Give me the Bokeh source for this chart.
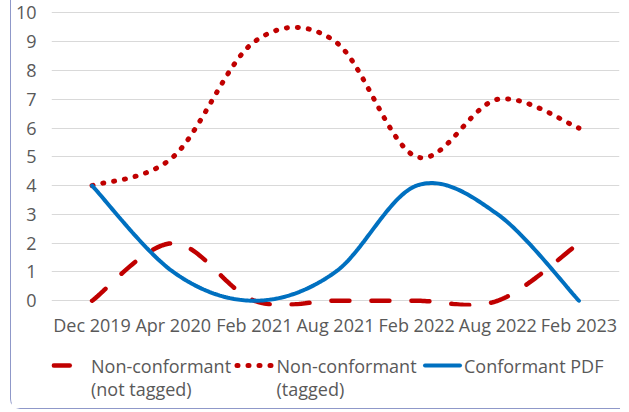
import numpy as np
from bokeh.plotting import figure
from bokeh.models import Range1d, FixedTicker
from bokeh.layouts import column
from bokeh.embed import file_html
from bokeh.resources import INLINE
from bokeh.core.properties import value

# ---- data ----
categories = ["Dec 2019", "Apr 2020", "Feb 2021", "Aug 2021", "Feb 2022", "Aug 2022", "Feb 2023"]
not_tagged = [0, 2, 0, 0, 0, 0, 2]
tagged = [4, 5, 9, 9, 5, 7, 6]
conformant = [4, 1, 0, 1, 4, 3, 0]
y_ticks = list(range(0, 11))
legend_line1 = ["Non-conformant", "Non-conformant", "Conformant PDF"]
legend_line2 = ["(not tagged)", "(tagged)", ""]

FONT = "Open Sans"
FS = "18px"
TXT = "#595959"
RED = "#C00000"
BLUE = "#0070C0"

OFFSET_X = 11.5   # column margin + border width (page px)
LEFT = 40
RIGHT = 1
W = 609


def smooth(ys, n=40):
    """Excel-like smoothed line (Catmull-Rom style cubic Bezier)."""
    pts = [(float(i), float(y)) for i, y in enumerate(ys)]
    ox, oy = [], []
    m = len(pts)
    for i in range(m - 1):
        p0 = pts[i - 1] if i > 0 else pts[i]
        p1 = pts[i]
        p2 = pts[i + 1]
        p3 = pts[i + 2] if i + 2 < m else pts[i + 1]
        c1 = (p1[0] + (p2[0] - p0[0]) / 6, p1[1] + (p2[1] - p0[1]) / 6)
        c2 = (p2[0] - (p3[0] - p1[0]) / 6, p2[1] - (p3[1] - p1[1]) / 6)
        t = np.linspace(0, 1, n, endpoint=(i == m - 2))
        a = (1 - t) ** 3
        b = 3 * (1 - t) ** 2 * t
        c = 3 * (1 - t) * t ** 2
        d = t ** 3
        ox.extend(a * p1[0] + b * c1[0] + c * c2[0] + d * p2[0])
        oy.extend(a * p1[1] + b * c1[1] + c * c2[1] + d * p2[1])
    return ox, oy


p = figure(width=W, height=344,
           x_range=Range1d(-0.5, len(categories) - 0.5),
           y_range=Range1d(-0.2, 10.05),
           output_backend="svg", toolbar_location=None,
           min_border_left=LEFT, min_border_right=RIGHT,
           min_border_top=11, min_border_bottom=38)
p.outline_line_color = None
p.background_fill_color = "white"
p.border_fill_color = "white"
p.xgrid.grid_line_color = None
p.ygrid.grid_line_color = "#D9D9D9"
p.ygrid.grid_line_width = 1

p.yaxis.ticker = FixedTicker(ticks=y_ticks)
p.xaxis.ticker = FixedTicker(ticks=list(range(len(categories))))
p.xaxis.major_label_overrides = {i: c for i, c in enumerate(categories)}
for ax in (p.xaxis, p.yaxis):
    ax.axis_line_color = None
    ax.major_tick_line_color = None
    ax.minor_tick_line_color = None
    ax.major_tick_out = 0
    ax.major_tick_in = 0
    ax.minor_tick_out = 0
    ax.minor_tick_in = 0
    ax.major_label_text_font = FONT
    ax.major_label_text_font_size = FS
    ax.major_label_text_color = TXT
p.yaxis.major_label_standoff = 15
p.xaxis.major_label_standoff = 6

x1, y1 = smooth(not_tagged)
p.line(x1, y1, line_color=RED, line_width=4.5, line_dash="18 22", line_cap="round")
x2, y2 = smooth(tagged)
p.line(x2, y2, line_color=RED, line_width=5, line_dash="1 10", line_cap="round")
x3, y3 = smooth(conformant)
p.line(x3, y3, line_color=BLUE, line_width=4, line_cap="round")

# ---- legend strip (x in page pixels; frame aligned with the chart frame) ----
lf = figure(width=W, height=64,
            x_range=Range1d(OFFSET_X + LEFT, OFFSET_X + W - RIGHT), y_range=Range1d(64, 0),
            x_axis_type=None, y_axis_type=None,
            min_border_left=LEFT, min_border_right=RIGHT, min_border_top=0, min_border_bottom=0,
            output_backend="svg", toolbar_location=None)
lf.outline_line_color = None
lf.grid.grid_line_color = None
lf.background_fill_color = "white"
lf.border_fill_color = "white"

row1, row2 = 21, 44
lf.line([53.75, 90], [row1, row1], line_color=RED, line_width=4.5, line_dash="16 24", line_cap="round")
lf.line([237, 272], [row1, row1], line_color=RED, line_width=5, line_dash="1 10", line_cap="round")
lf.line([425, 460], [row1, row1], line_color=BLUE, line_width=4, line_cap="round")

tx = [91, 276.5, 464]
lf.text(x=tx, y=[row1] * 3, text=legend_line1, text_font=value(FONT), text_font_size=FS,
        text_color=TXT, text_baseline="middle", text_align="left")
lf.text(x=tx[:2], y=[row2] * 2, text=legend_line2[:2], text_font=value(FONT), text_font_size=FS,
        text_color=TXT, text_baseline="middle", text_align="left")

layout = column(p, lf, styles={"margin-left": "10px",
                               "border-left": "1.5px solid #8F98C9",
                               "border-bottom": "1.5px solid #8F98C9",
                               "border-bottom-left-radius": "10px"})

open("out.html", "w").write(file_html(layout, INLINE))
